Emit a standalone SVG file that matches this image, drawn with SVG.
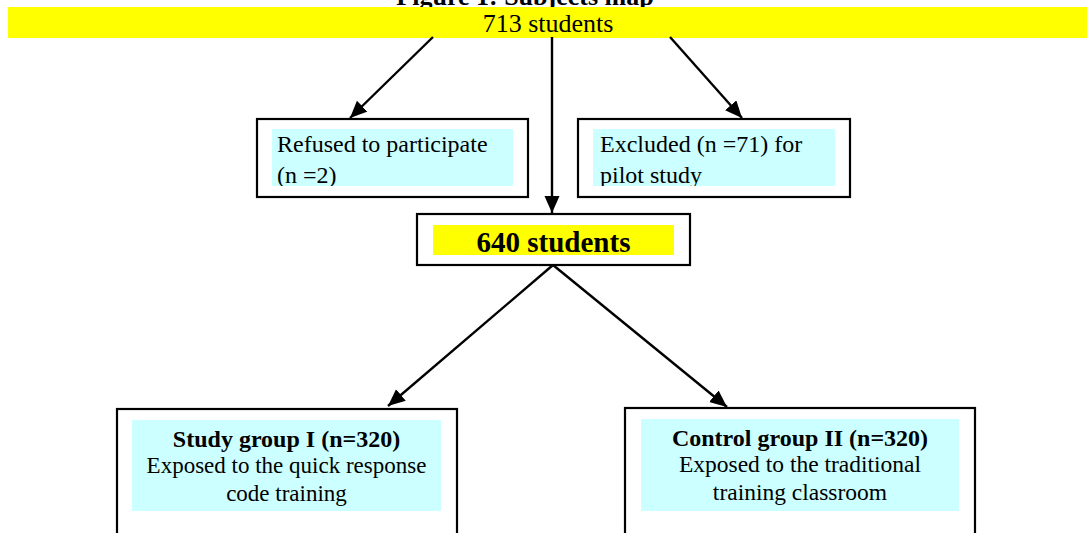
<svg xmlns="http://www.w3.org/2000/svg" width="1087" height="533" viewBox="0 0 1087 533">
<style>
.box{fill:#fff;stroke:#000;stroke-width:2.2}
.cyan{fill:#ccffff}
.yel{fill:#ffff00}
.t{font-family:"Liberation Serif","Times New Roman",serif;fill:#000}
.b{font-weight:bold}
.conn{stroke:#000;stroke-width:2.4;fill:none}
</style>
<defs>
<marker id="arr" markerUnits="userSpaceOnUse" markerWidth="20" markerHeight="16" refX="17" refY="7.5" orient="auto">
<path d="M0,0 L17,7.5 L0,15 Z" fill="#000"/>
</marker>
<clipPath id="c1"><rect x="272" y="129" width="241" height="57"/></clipPath>
<clipPath id="c2"><rect x="593" y="129" width="242" height="57"/></clipPath>
</defs>
<rect width="1087" height="533" fill="#fff"/>
<text class="t b" x="525" y="5" font-size="26" text-anchor="middle">Figure 1: Subjects map</text>
<g id="n713">
<rect class="yel" x="8" y="7" width="1079" height="31"/>
<text class="t" x="548" y="32" font-size="26" text-anchor="middle">713 students</text>
</g>
<g id="connectors">
<line class="conn" x1="433" y1="37" x2="350" y2="118" marker-end="url(#arr)"/>
<line class="conn" x1="552" y1="37" x2="552" y2="213" marker-end="url(#arr)"/>
<line class="conn" x1="670" y1="37" x2="742" y2="118" marker-end="url(#arr)"/>
<line class="conn" x1="553" y1="265" x2="388" y2="406" marker-end="url(#arr)"/>
<line class="conn" x1="553" y1="265" x2="727" y2="407" marker-end="url(#arr)"/>
</g>
<g id="refused">
<rect class="box" x="257" y="119" width="271" height="78"/>
<rect class="cyan" x="272" y="129" width="241" height="57"/>
<g clip-path="url(#c1)">
<text class="t" x="277" y="152" font-size="24">Refused to participate</text>
<text class="t" x="277" y="183" font-size="24">(n =2)</text>
</g>
</g>
<g id="excluded">
<rect class="box" x="578" y="119" width="272" height="78"/>
<rect class="cyan" x="593" y="129" width="242" height="57"/>
<g clip-path="url(#c2)">
<text class="t" x="600" y="152" font-size="24">Excluded (n =71) for</text>
<text class="t" x="600" y="183" font-size="24">pilot study</text>
</g>
</g>
<g id="n640">
<rect class="box" x="417" y="214" width="273" height="51"/>
<rect class="yel" x="433" y="225" width="241" height="30"/>
<text class="t b" x="553.5" y="252" font-size="29" text-anchor="middle">640 students</text>
</g>
<g id="study">
<rect class="box" x="117" y="409" width="340" height="140"/>
<rect class="cyan" x="132" y="420" width="309" height="91"/>
<text class="t b" x="286.5" y="447" font-size="24" text-anchor="middle">Study group I (n=320)</text>
<text class="t" x="286.5" y="473" font-size="23" text-anchor="middle">Exposed to the quick response</text>
<text class="t" x="286.5" y="501" font-size="23" text-anchor="middle">code training</text>
</g>
<g id="control">
<rect class="box" x="625" y="408" width="350" height="140"/>
<rect class="cyan" x="641" y="419" width="318" height="92"/>
<text class="t b" x="800" y="446" font-size="24" text-anchor="middle">Control group II (n=320)</text>
<text class="t" x="800" y="472" font-size="23.5" text-anchor="middle">Exposed to the traditional</text>
<text class="t" x="800" y="500" font-size="23.5" text-anchor="middle">training classroom</text>
</g>
</svg>
